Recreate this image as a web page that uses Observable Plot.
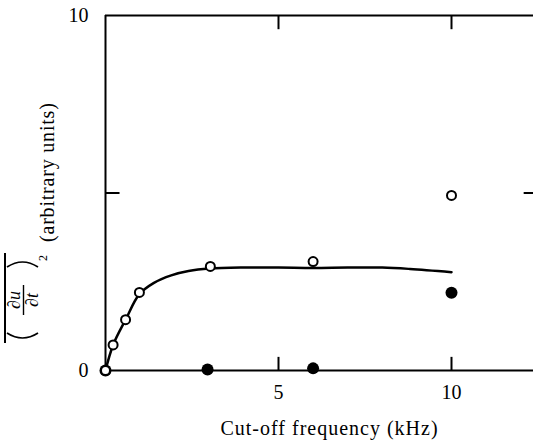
<!DOCTYPE html>
<html><head><meta charset="utf-8">
<script src="https://cdn.jsdelivr.net/npm/d3@7"></script>
<script src="https://cdn.jsdelivr.net/npm/@observablehq/plot@0.6"></script>
<style>
body{margin:0;background:#fff}
g[aria-label="text"] text{letter-spacing:1px}
</style>
</head><body><div id="chart"></div>
<script>
// Open circles (data points)
const openX = [0, 0.22, 0.58, 0.98, 3.03, 6.0, 10.0];
const openY = [0, 0.72, 1.43, 2.2, 2.93, 3.07, 4.93];
// Filled circles
const filledX = [0, 2.95, 6.0, 10.0];
const filledY = [0, 0.03, 0.06, 2.19];
// Hand-drawn fitted curve
const curveX = [0, 0.22, 0.58, 0.98, 1.4, 1.9, 2.4, 3.0, 4.0, 5.0, 6.0, 7.0, 8.0, 8.8, 10.0];
const curveY = [0, 0.72, 1.43, 2.15, 2.47, 2.68, 2.8, 2.87, 2.9, 2.9, 2.89, 2.9, 2.9, 2.86, 2.77];
// Ticks and labels
const xTicks = [5, 10];
const yTicks = [0, 10];
const xFrame = [0, 12.5];
const yFrame = [0, 10];
const xLabel = "Cut-off frequency (kHz)";
const yLabel = "(arbitrary units)";

const open = openX.map((x, i) => ({x, y: openY[i]}));
const filled = filledX.map((x, i) => ({x, y: filledY[i]}));
const curve = curveX.map((x, i) => ({x, y: curveY[i]}));

const serif = '"Liberation Serif", "Times New Roman", "DejaVu Serif", serif';

function yLabelMark(index, scales, values, dimensions) {
  const dim = dimensions || {marginLeft: 105, height: 446, marginBottom: 76};
  const tx = dim.marginLeft - 51, ty = dim.height - dim.marginBottom - 27;
  const g = d3.create("svg:g")
    .attr("transform", `translate(${tx},${ty}) rotate(-90)`)
    .attr("fill", "black").attr("stroke", "none")
    .attr("text-anchor", "start")
    .style("font-family", serif);
  // overline
  g.append("line").attr("x1", 0).attr("x2", 90).attr("y1", -49).attr("y2", -49)
    .attr("stroke", "black").attr("stroke-width", 2);
  // parentheses
  g.append("path").attr("d", "M10,-47 Q0,-31.5 10,-16").attr("fill", "none")
    .attr("stroke", "black").attr("stroke-width", 1.7);
  g.append("path").attr("d", "M76,-47 Q86,-31.5 76,-16").attr("fill", "none")
    .attr("stroke", "black").attr("stroke-width", 1.7);
  // fraction
  const num = g.append("text").attr("x", 43).attr("y", -34).attr("text-anchor", "middle").attr("font-size", 18);
  num.append("tspan").text("∂");
  num.append("tspan").attr("font-style", "italic").text("u");
  g.append("line").attr("x1", 28).attr("x2", 58).attr("y1", -30.5).attr("y2", -30.5)
    .attr("stroke", "black").attr("stroke-width", 1.4);
  const den = g.append("text").attr("x", 43).attr("y", -16.5).attr("text-anchor", "middle").attr("font-size", 18);
  den.append("tspan").text("∂");
  den.append("tspan").attr("font-style", "italic").text("t");
  // exponent
  g.append("text").attr("x", 85).attr("y", -7).attr("text-anchor", "middle").attr("font-size", 12).text("2");
  // units
  g.append("text").attr("x", 101).attr("y", 0).attr("text-anchor", "start")
    .attr("font-size", 20).style("letter-spacing", "0.8px").text(yLabel);
  return g.node();
}

const chart = Plot.plot({
  width: 533, height: 446,
  marginLeft: 105, marginRight: 0, marginTop: 15, marginBottom: 76,
  x: {domain: xFrame, range: [105, 537.5]},
  y: {domain: yFrame, range: [370, 15]},
  style: {fontFamily: serif, fontSize: "20px", background: "white", color: "black"},
  marks: [
    Plot.axisX({ticks: xTicks, tickSize: 0, tickPadding: 14, label: null, fontSize: 20, tickFormat: d => String(d)}),
    Plot.axisY({ticks: yTicks, tickSize: 0, tickPadding: 17, label: null, fontSize: 20, tickFormat: d => String(d)}),
    Plot.ruleY([yFrame[0]], {x1: xFrame[0], x2: xFrame[1], strokeWidth: 2.2}),
    Plot.ruleY([yFrame[1]], {x1: xFrame[0], x2: xFrame[1], strokeWidth: 2}),
    Plot.ruleX([xFrame[0]], {y1: yFrame[0], y2: yFrame[1], strokeWidth: 2}),
    Plot.ruleX(xTicks, {y1: 0, y2: 0.37, strokeWidth: 2}),
    Plot.ruleX(xTicks, {y1: 10, y2: 9.6, strokeWidth: 2}),
    Plot.ruleY([5], {x1: 0, x2: 0.42, strokeWidth: 2}),
    Plot.ruleY([5], {x1: 12.1, x2: 12.5, strokeWidth: 2}),
    Plot.line(curve, {x: "x", y: "y", curve: "catmull-rom", strokeWidth: 2.5}),
    Plot.dot(filled, {x: "x", y: "y", r: 6, fill: "black", stroke: null}),
    Plot.dot(open, {x: "x", y: "y", r: 4.5, fill: "white", stroke: "black", strokeWidth: 2}),
    Plot.text([xLabel], {frameAnchor: "bottom", lineAnchor: "top", dx: 10, dy: 50, fontSize: 20}),
    yLabelMark
  ]
});
document.getElementById("chart").appendChild(chart);
</script>
</body></html>
